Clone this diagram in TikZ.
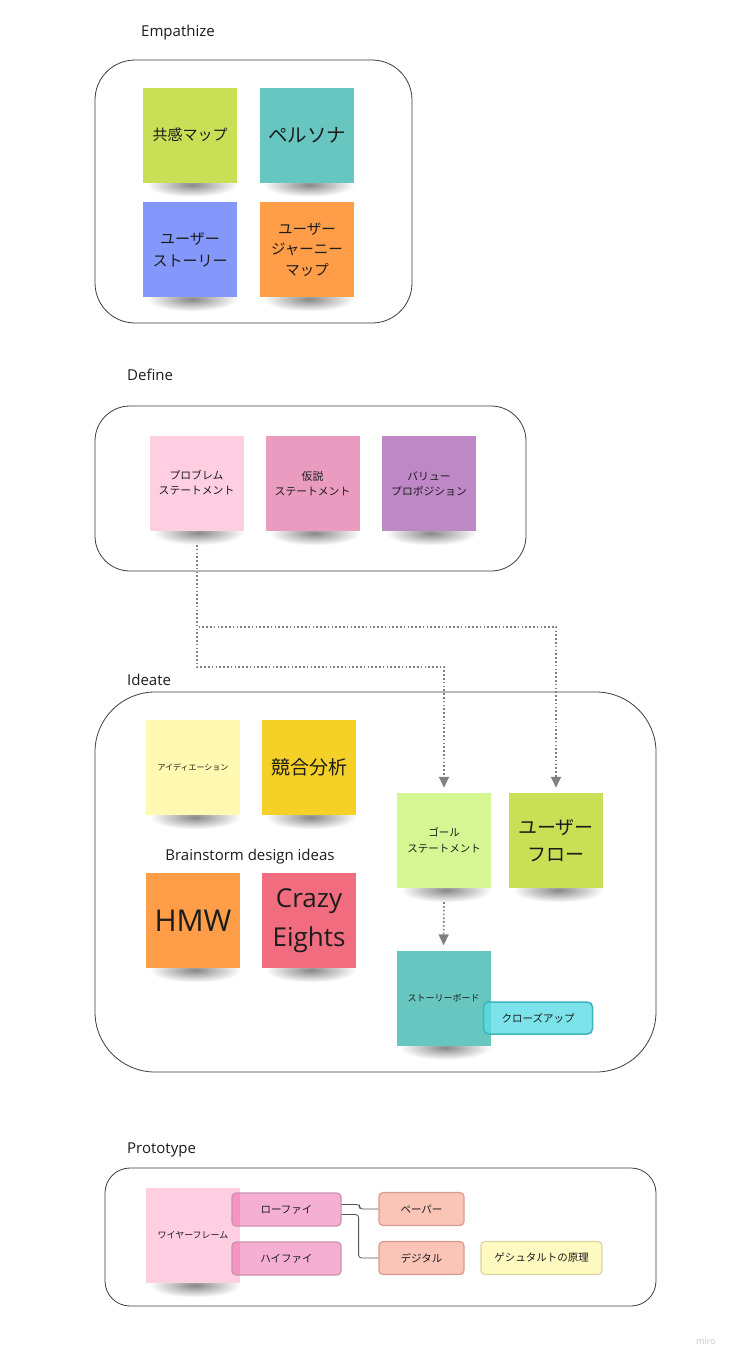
\documentclass[tikz,border=0pt]{standalone}
\usepackage{fontspec}
\setmainfont{Open Sans}
\newfontfamily\jp{Noto Sans CJK JP}
\usetikzlibrary{arrows.meta, fadings}

\definecolor{lime}{HTML}{C9DF56}
\definecolor{teal}{HTML}{67C6C0}
\definecolor{blue}{HTML}{8498FB}
\definecolor{orange}{HTML}{FF9D48}
\definecolor{lightpink}{HTML}{FFCEE0}
\definecolor{pink}{HTML}{EA9BC0}
\definecolor{violet}{HTML}{BE88C7}
\definecolor{lightyellow}{HTML}{FFF9B1}
\definecolor{yellow}{HTML}{F5D128}
\definecolor{lightgreen}{HTML}{D5F692}
\definecolor{red}{HTML}{F16C7F}
\definecolor{aqua}{HTML}{5ADDE4}
\definecolor{aquaedge}{HTML}{3CB4BA}
\definecolor{salmon}{HTML}{FAC4B6}
\definecolor{salmonedge}{HTML}{D79C8F}
\definecolor{ink}{HTML}{1C1C1C}

\newcommand\jpf[2]{\jp\fontsize{#1}{#2}\selectfont}

\pgfdeclarelayer{bg}
\pgfsetlayers{bg,main}
\tikzfading[name=stickyfade, inner color=transparent!45, outer color=transparent!100]

\tikzset{
  sticky/.style={minimum width=94pt, minimum height=95pt, inner sep=0pt,
    align=center, text=ink},
  stickyshadow/.style={fill=black!85, path fading=stickyfade, fit fading=true},
  frame/.style={draw=ink!85, line width=0.8pt},
  phase/.style={anchor=west, inner sep=0pt, text=ink, font=\fontsize{15}{18}\selectfont},
  flow/.style={draw=gray, line width=1.6pt, dash pattern=on 1.6pt off 2.2pt,
    -{Triangle[width=10pt,length=11pt]}, shorten >=5pt},
  tag/.style={rounded corners=4pt, minimum height=33pt, inner sep=0pt,
    line width=1.2pt, text=ink, font=\jpf{10.5}{13}},
  link/.style={draw=ink!75, line width=0.8pt, rounded corners=3pt}
}

\begin{document}
\begin{tikzpicture}[x=1pt, y=-1pt]

% Page
\begin{pgfonlayer}{bg}
\fill[white] (0,0) rectangle (734,1361);
\end{pgfonlayer}
\useasboundingbox (0,0) rectangle (734,1361);

% Empathize
\node[phase] (empathize) at (141,33) {Empathize};
\draw[frame, rounded corners=40pt] (95,60) rectangle (412,323);
\node[sticky, fill=lime, font=\jpf{15}{21}] (empathy) at (190,135) {共感マップ};
\node[sticky, fill=teal, font=\jpf{19.5}{24}] (persona) at (307,135) {ペルソナ};
\node[sticky, fill=blue, font=\jpf{15}{22}] (ustory) at (190,249.5) {ユーザー\\ストーリー};
\node[sticky, fill=orange, font=\jpf{14.5}{20.5}] (journey) at (307,249.5) {ユーザー\\ジャーニー\\マップ};

% Define
\node[phase] (define) at (127,375) {Define};
\draw[frame, rounded corners=35pt] (95,406) rectangle (526,571);
\node[sticky, fill=lightpink, font=\jpf{10.8}{15}] (problem) at (196.5,483) {プロブレム\\ステートメント};
\node[sticky, fill=pink, font=\jpf{10.8}{15}] (hypo) at (312.5,483.5) {仮説\\ステートメント};
\node[sticky, fill=violet, font=\jpf{10.8}{15}] (value) at (429,483.5) {バリュー\\プロポジション};

% Ideate
\node[phase] (ideate) at (127,680) {Ideate};
\draw[frame, rounded corners=60pt] (95,692) rectangle (656,1072);
\node[sticky, fill=lightyellow, font=\jpf{8}{10}] (ideation) at (193,767.5) {アイディエーション};
\node[sticky, fill=yellow, font=\jpf{19}{24}] (compet) at (309,767.5) {競合分析};
\node[text=ink, font=\fontsize{15}{18}\selectfont] (brain) at (250,857) {Brainstorm design ideas};
\node[sticky, fill=orange, font=\fontsize{30}{36}\selectfont] (hmw) at (193,920.5) {HMW};
\node[sticky, fill=red, font=\fontsize{26}{39}\selectfont] (crazy) at (309,920.5) {Crazy\\Eights};
\node[sticky, fill=lightgreen, font=\jpf{10.5}{16}] (goal) at (444,840.5) {ゴール\\ステートメント};
\node[sticky, fill=lime, font=\jpf{19}{27}] (uflow) at (556,840.5) {ユーザー\\フロー};
\node[sticky, fill=teal, font=\jpf{9}{11}] (story) at (443.5,998) {ストーリーボード};
\node[tag, minimum width=109pt, minimum height=32pt, rounded corners=5pt,
  draw=aquaedge, line width=1.5pt, fill=aqua, fill opacity=0.8,
  text opacity=1, font=\jpf{10.5}{13}] (closeup) at (538,1018) {クローズアップ};

% Flow between the phases
\coordinate (probout) at (197,545);
\draw[flow] (probout) -- ++(0,82) -| (uflow.north);
\draw[flow] (probout) -- ++(0,122) -| (goal.north);
\draw[flow] ([yshift=-14pt]goal.south) -- (story.north);

% Prototype
\node[phase] (prototype) at (127,1150) {Prototype};
\draw[frame, rounded corners=25pt] (105,1168) rectangle (656,1306);
\node[sticky, fill=lightpink, font=\jpf{9}{11}] (wire) at (193,1235.5) {ワイヤーフレーム};
\node[tag, minimum width=109pt, draw=pink!70!gray, fill=magenta!55!pink, fill opacity=0.45,
  text opacity=1] (lofi) at (286.5,1209.5) {ローファイ};
\node[tag, minimum width=109pt, draw=pink!70!gray, fill=magenta!55!pink, fill opacity=0.45,
  text opacity=1] (hifi) at (286.5,1258.5) {ハイファイ};
\node[tag, minimum width=85pt, draw=salmonedge, fill=salmon] (paper) at (421.5,1209) {ペーパー};
\node[tag, minimum width=85pt, draw=salmonedge, fill=salmon] (digital) at (421.5,1258) {デジタル};
\node[tag, minimum width=121pt, draw=lightyellow!70!gray, fill=lightyellow!80!white] (gestalt) at (541.5,1258) {ゲシュタルトの原理};
\draw[link] ([yshift=5pt]lofi.east) -- ++(18,0) |- (paper.west);
\draw[link] ([yshift=-5pt]lofi.east) -- ++(17,0) |- (digital.west);

% Shadows under the stickies
\begin{pgfonlayer}{bg}
\foreach \s in {empathy,persona,ustory,journey,problem,hypo,value,ideation,compet,hmw,crazy,goal,uflow,story,wire}
  \fill[stickyshadow] ([xshift=4pt,yshift=10pt]\s.south west) rectangle ([xshift=0pt,yshift=-14pt]\s.south east);
\end{pgfonlayer}

% Watermark
\node[text=gray!45, font=\fontsize{9}{11}\selectfont] (miro) at (706,1341) {miro};

\end{tikzpicture}
\end{document}
